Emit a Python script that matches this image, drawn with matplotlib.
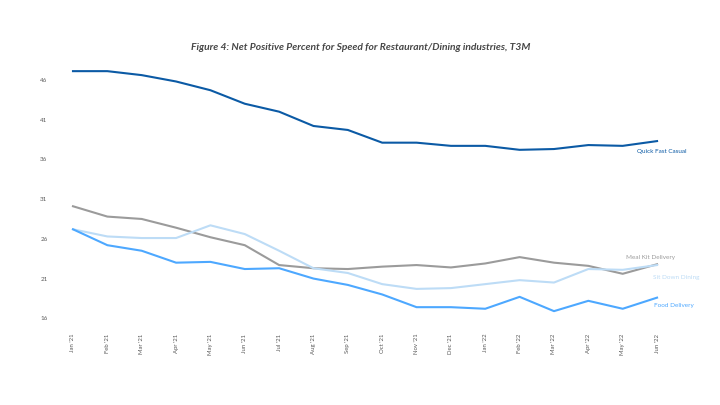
import matplotlib
matplotlib.use("Agg")
import matplotlib.pyplot as plt
import numpy as np

plt.rcParams['font.family'] = ['Lato', 'DejaVu Sans']

# data
months = ["Jan '21", "Feb '21", "Mar '21", "Apr '21", "May '21", "Jun '21",
          "Jul '21", "Aug '21", "Sep '21", "Oct '21", "Nov '21", "Dec '21",
          "Jan '22", "Feb '22", "Mar '22", "Apr '22", "May '22", "Jun '22"]
quick_fast_casual = [47.1, 47.1, 46.6, 45.8, 44.7, 43.0, 42.0, 40.2, 39.7, 38.1,
                     38.1, 37.7, 37.7, 37.2, 37.3, 37.8, 37.7, 38.3]
meal_kit = [30.1, 28.8, 28.5, 27.4, 26.2, 25.2, 22.7, 22.3, 22.2, 22.5,
            22.7, 22.4, 22.9, 23.7, 23.0, 22.6, 21.6, 22.8]
sit_down = [27.2, 26.3, 26.1, 26.1, 27.7, 26.6, 24.5, 22.3, 21.7, 20.3,
            19.7, 19.8, 20.3, 20.8, 20.5, 22.2, 22.1, 22.7]
food_delivery = [27.2, 25.2, 24.5, 23.0, 23.1, 22.2, 22.3, 21.0, 20.2, 19.0,
                 17.4, 17.4, 17.2, 18.7, 16.9, 18.2, 17.2, 18.6]
yticks = [16, 21, 26, 31, 36, 41, 46]

c_qfc = '#0B5AA5'
c_meal = '#9B9B9B'
c_sit = '#BDDCF6'
c_food = '#4DA8FF'
c_text = '#595959'

fig = plt.figure(figsize=(7.2, 4.05), dpi=100)
ax = fig.add_axes([60 / 720, 1 - 318.3 / 405, 640 / 720, (318.3 - 64) / 405])

x = np.arange(len(months))
ax.plot(x, quick_fast_casual, color=c_qfc, lw=1.5)
ax.plot(x, meal_kit, color=c_meal, lw=1.5)
ax.plot(x, sit_down, color=c_sit, lw=1.5)
ax.plot(x, food_delivery, color=c_food, lw=1.5)

ax.set_xlim(-0.378, 18.25)
ax.set_ylim(16, 48)
ax.set_xticks(x)
ax.set_xticklabels(months, rotation=90, fontsize=4.3, color=c_text)
ax.set_yticks(yticks)
ax.set_yticklabels([str(v) for v in yticks], fontsize=4.5, color=c_text)
ax.tick_params(axis='both', length=0)
ax.tick_params(axis='y', pad=9)
ax.tick_params(axis='x', pad=11)
for s in ax.spines.values():
    s.set_visible(False)

# series labels
ax.text(17.15, 37.0, 'Quick Fast Casual', color=c_qfc, fontsize=4.6, ha='center', va='center')
ax.text(16.8, 23.6, 'Meal Kit Delivery', color=c_meal, fontsize=4.6, ha='center', va='center')
ax.text(17.55, 21.1, 'Sit Down Dining', color=c_sit, fontsize=4.6, ha='center', va='center')
ax.text(17.5, 17.6, 'Food Delivery', color=c_food, fontsize=4.6, ha='center', va='center')

fig.text(361 / 720, 1 - 47 / 405,
         'Figure 4: Net Positive Percent for Speed for Restaurant/Dining industries, T3M',
         ha='center', va='center', fontsize=7.4, fontweight='bold', fontstyle='italic',
         color='#474747')

fig.savefig('out.png', dpi=100)
